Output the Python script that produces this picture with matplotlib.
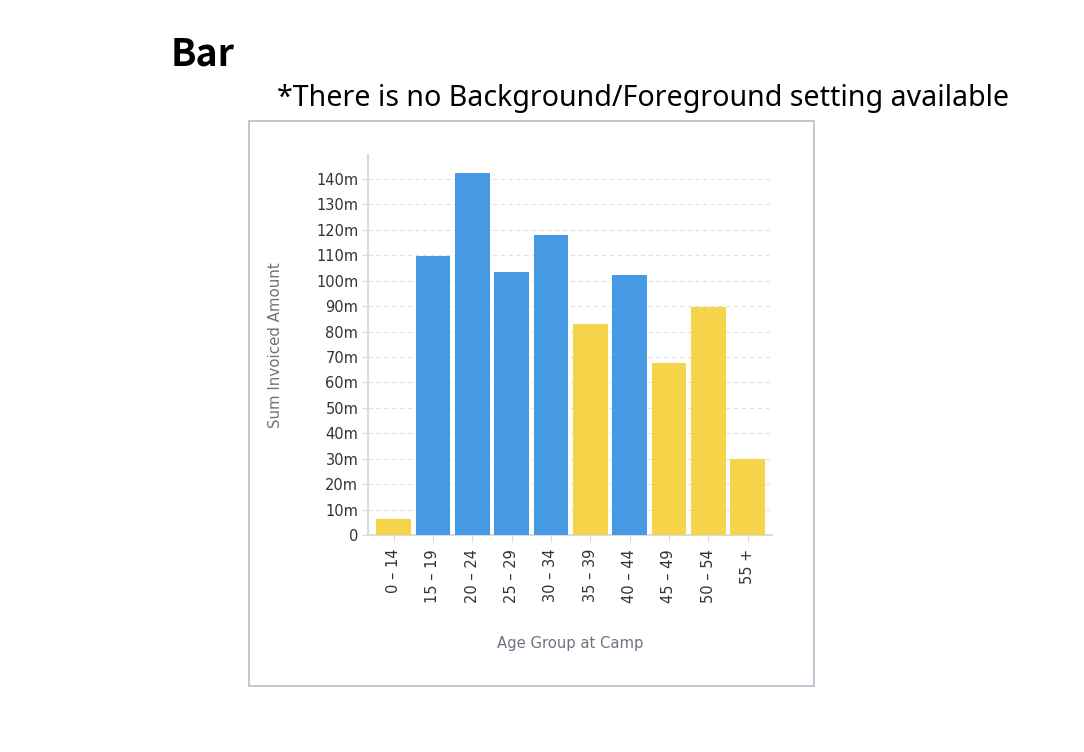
import matplotlib.pyplot as plt
from matplotlib.patches import Rectangle
from matplotlib.ticker import FuncFormatter, MultipleLocator

# data (millions)
age_groups = ["0 – 14", "15 – 19", "20 – 24", "25 – 29", "30 – 34",
              "35 – 39", "40 – 44", "45 – 49", "50 – 54", "55 +"]
invoiced_m = [6.3, 109.7, 142.3, 103.4, 118.0, 83.0, 102.2, 67.6, 89.7, 29.9]
highlight = [True, False, False, False, False, True, False, True, True, True]

blue = "#4699e3"
yellow = "#f6d449"
colors = [yellow if h else blue for h in highlight]

plt.rcParams["font.family"] = ["DejaVu Sans"]

fig = plt.figure(figsize=(10.84, 7.52), dpi=100)

# headings
fig.text(171 / 1084, 1 - 65 / 752, "Bar", fontsize=27, fontweight="bold",
         family=["Noto Sans CJK JP", "DejaVu Sans"], color="black")
fig.text(277 / 1084, 1 - 106 / 752,
         "*There is no Background/Foreground setting available",
         fontsize=20.6, family=["Noto Sans", "DejaVu Sans"], color="black")

# panel border
fig.patches.append(Rectangle((248.5 / 1084, 1 - 685.5 / 752), 565 / 1084, 565 / 752,
                             transform=fig.transFigure, fill=False,
                             edgecolor="#b9bccb", linewidth=1.2))

ax = fig.add_axes([368 / 1084, 1 - 535 / 752, 404 / 1084, 380 / 752])
x = range(len(age_groups))
ax.bar(x, invoiced_m, width=0.88, color=colors, zorder=3)

ax.set_xlim(-0.65, 9.62)
ax.set_ylim(0, 149.4)
ax.yaxis.set_major_locator(MultipleLocator(10))
ax.yaxis.set_major_formatter(FuncFormatter(lambda v, p: "0" if v == 0 else f"{v:.0f}m"))
ax.set_xticks(list(x))
ax.set_xticklabels(age_groups, rotation=90)

ax.grid(axis="y", color="#dfdfe6", linestyle=(0, (4, 3)), linewidth=0.8, zorder=0)
for s in ["top", "right"]:
    ax.spines[s].set_visible(False)
for s in ["left", "bottom"]:
    ax.spines[s].set_color("#d9d9e2")
    ax.spines[s].set_linewidth(1.4)

ax.tick_params(axis="y", length=4, color="#d9d9e2", labelsize=10.5,
               labelcolor="#333333", pad=3)
ax.tick_params(axis="x", length=5, color="#d9d9e2", labelsize=10.5,
               labelcolor="#333333", pad=5)

ax.set_ylabel("Sum Invoiced Amount", fontsize=10.8, color="#707080", labelpad=24)
ax.set_xlabel("Age Group at Camp", fontsize=10.6, color="#707080", labelpad=24)

fig.savefig("out.png", dpi=100)
